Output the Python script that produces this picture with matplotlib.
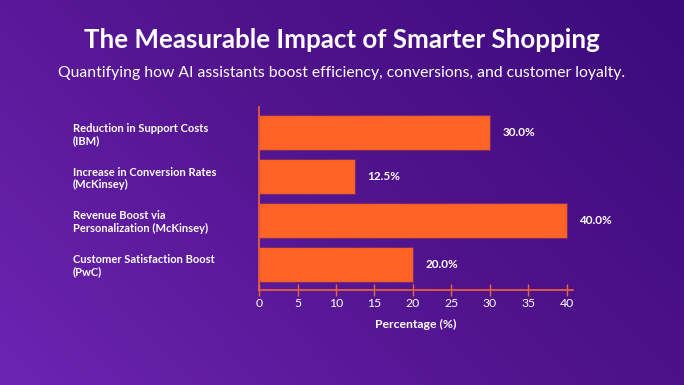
import numpy as np
import matplotlib
matplotlib.use('Agg')
import matplotlib.pyplot as plt
from matplotlib.colors import LinearSegmentedColormap

categories = [
    'Reduction in Support Costs\n(IBM)',
    'Increase in Conversion Rates\n(McKinsey)',
    'Revenue Boost via\nPersonalization (McKinsey)',
    'Customer Satisfaction Boost\n(PwC)',
]
values = [30.0, 12.5, 40.0, 20.0]
xticks = [0, 5, 10, 15, 20, 25, 30, 35, 40]

title = 'The Measurable Impact of Smarter Shopping'
subtitle = 'Quantifying how AI assistants boost efficiency, conversions, and customer loyalty.'

plt.rcParams['font.family'] = ['Lato', 'DejaVu Sans']

bar_color = '#ff6325'
line_color = '#f0643a'

fig = plt.figure(figsize=(6.84, 3.85), dpi=100)

# diagonal gradient background
bg = fig.add_axes([0, 0, 1, 1])
bg.set_axis_off()
xx, yy = np.meshgrid(np.linspace(0, 1, 300), np.linspace(0, 1, 200))
grad = np.clip(0.65 * xx + 0.35 * yy, 0, 1)
cmap = LinearSegmentedColormap.from_list('bg', ['#6c24b2', '#52148f', '#3c0a7c'])
bg.imshow(grad, cmap=cmap, aspect='auto', origin='lower', extent=[0, 1, 0, 1])

fig.text(0.5, 0.895, title, ha='center', va='center', color='white',
         fontsize=18.6, fontweight='bold')
fig.text(0.5, 0.81, subtitle, ha='center', va='center', color='white',
         fontsize=11.3)

ax = fig.add_axes([0.3787, 0.2468, 0.459, 0.4753])
ax.patch.set_alpha(0)
y = np.arange(len(categories))
ax.barh(y, values, height=0.8, color=bar_color, edgecolor='#7a2a6a', linewidth=0.8)
ax.invert_yaxis()
ax.set_xlim(0, max(values) * 1.02)

for yi, v in zip(y, values):
    ax.text(v + 1.6, yi, f'{v:.1f}%', ha='left', va='center', color='white',
            fontsize=8.5, fontweight='bold')

ax.set_yticks(y)
ax.set_yticklabels(categories, ha='left', color='white', fontsize=8,
                   fontweight='bold', linespacing=1.15)
ax.tick_params(axis='y', length=0, pad=134)
ax.set_xticks(xticks)
ax.set_xticklabels([str(t) for t in xticks], color='white', fontsize=8.8)
ax.tick_params(axis='x', direction='inout', length=8, width=1, color=line_color, pad=2)
ax.set_xlabel('Percentage (%)', color='white', fontsize=8.8, fontweight='bold', labelpad=7)

for side in ['top', 'right']:
    ax.spines[side].set_visible(False)
for side in ['left', 'bottom']:
    ax.spines[side].set_color(line_color)
    ax.spines[side].set_linewidth(1.2)

fig.savefig('out.png', dpi=100)
